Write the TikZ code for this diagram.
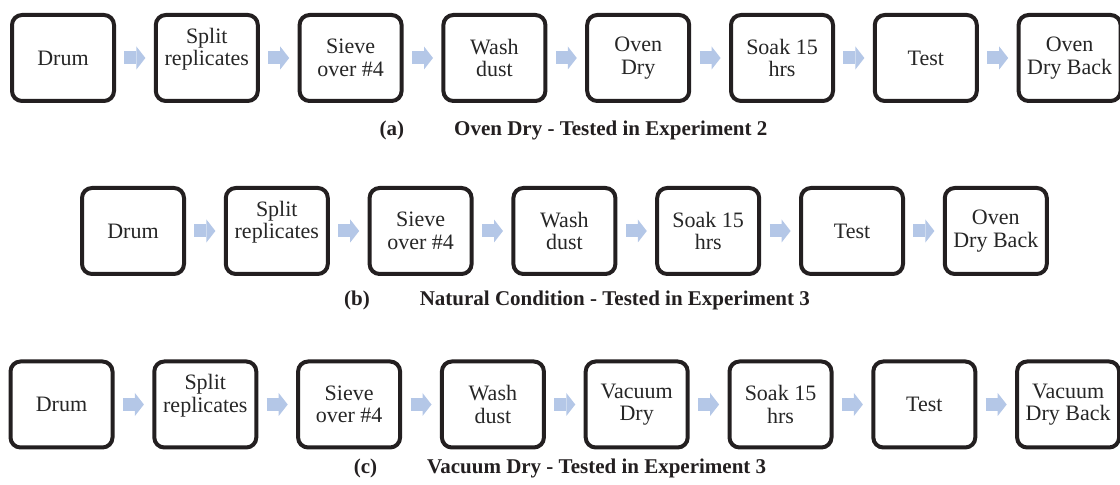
\documentclass[tikz,border=0pt]{standalone}
\usepackage{fontspec}
\setmainfont{Liberation Serif}
\usetikzlibrary{arrows.meta}
\usetikzlibrary{positioning}

\definecolor{flowblue}{RGB}{180,199,231}
\definecolor{boxline}{RGB}{35,31,32}
\definecolor{boxtext}{RGB}{38,38,38}

\begin{document}
\begin{tikzpicture}[
        stepbox/.style={draw=boxline,line width=2pt,rounded corners=5pt,
            minimum width=51pt,minimum height=43pt,inner sep=1pt,align=center,
            text=boxtext,font=\fontsize{11pt}{11.2pt}\selectfont},
        flowarrow/.style={flowblue,line width=6.5pt,shorten <=4.2pt,shorten >=4.2pt,
            -{Triangle[length=4.5pt,width=11.5pt,line width=0pt]}},
        caption/.style={font=\fontsize{10.5pt}{12pt}\selectfont\bfseries,text=boxline},
        node distance=18.9pt
    ]
        \useasboundingbox (0,0) rectangle (560pt,-242.5pt);

        % (a) oven dry
        \node[stepbox] (a1) at (31.5pt,-29pt) {Drum};
        \node[stepbox,right=of a1] (a2) {Split\\replicates\\\mbox{}};
        \node[stepbox,right=of a2] (a3) {Sieve\\over \#4};
        \node[stepbox,right=of a3] (a4) {Wash\\dust};
        \node[stepbox,right=of a4] (a5) {Oven\\Dry};
        \node[stepbox,right=of a5] (a6) {Soak 15\\hrs};
        \node[stepbox,right=of a6] (a7) {Test};
        \node[stepbox,right=of a7] (a8) {Oven\\Dry Back};

        \draw[flowarrow] (a1) -- (a2);
        \draw[flowarrow] (a2) -- (a3);
        \draw[flowarrow] (a3) -- (a4);
        \draw[flowarrow] (a4) -- (a5);
        \draw[flowarrow] (a5) -- (a6);
        \draw[flowarrow] (a6) -- (a7);
        \draw[flowarrow] (a7) -- (a8);

        \node[caption] (capa) at (286.75pt,-65pt) {(a)\hspace{25pt}Oven Dry - Tested in Experiment 2};

        % (b) natural condition
        \node[stepbox] (b1) at (66.5pt,-115.5pt) {Drum};
        \node[stepbox,right=of b1] (b2) {Split\\replicates\\\mbox{}};
        \node[stepbox,right=of b2] (b3) {Sieve\\over \#4};
        \node[stepbox,right=of b3] (b4) {Wash\\dust};
        \node[stepbox,right=of b4] (b5) {Soak 15\\hrs};
        \node[stepbox,right=of b5] (b6) {Test};
        \node[stepbox,right=of b6] (b7) {Oven\\Dry Back};

        \draw[flowarrow] (b1) -- (b2);
        \draw[flowarrow] (b2) -- (b3);
        \draw[flowarrow] (b3) -- (b4);
        \draw[flowarrow] (b4) -- (b5);
        \draw[flowarrow] (b5) -- (b6);
        \draw[flowarrow] (b6) -- (b7);

        \node[caption] (capb) at (288.5pt,-150pt) {(b)\hspace{25pt}Natural Condition - Tested in Experiment 3};

        % (c) vacuum dry
        \node[stepbox] (c1) at (30.75pt,-202.25pt) {Drum};
        \node[stepbox,right=of c1] (c2) {Split\\replicates\\\mbox{}};
        \node[stepbox,right=of c2] (c3) {Sieve\\over \#4};
        \node[stepbox,right=of c3] (c4) {Wash\\dust};
        \node[stepbox,right=of c4] (c5) {Vacuum\\Dry};
        \node[stepbox,right=of c5] (c6) {Soak 15\\hrs};
        \node[stepbox,right=of c6] (c7) {Test};
        \node[stepbox,right=of c7] (c8) {Vacuum\\Dry Back};

        \draw[flowarrow] (c1) -- (c2);
        \draw[flowarrow] (c2) -- (c3);
        \draw[flowarrow] (c3) -- (c4);
        \draw[flowarrow] (c4) -- (c5);
        \draw[flowarrow] (c5) -- (c6);
        \draw[flowarrow] (c6) -- (c7);
        \draw[flowarrow] (c7) -- (c8);

        \node[caption] (capc) at (280pt,-234pt) {(c)\hspace{25pt}Vacuum Dry - Tested in Experiment 3};
    \end{tikzpicture}
\end{document}
